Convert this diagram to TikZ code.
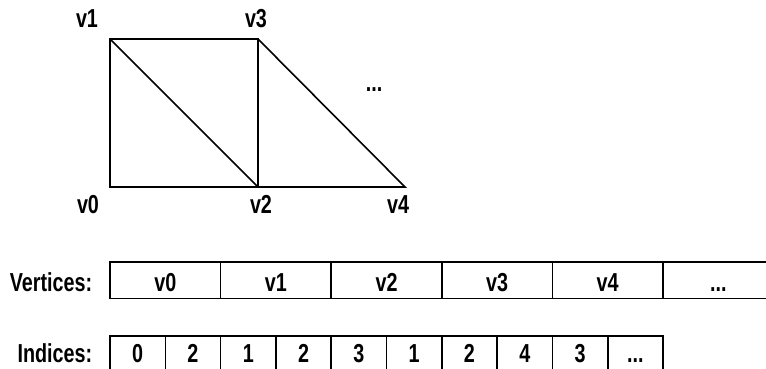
\documentclass[tikz,border=0pt]{standalone}
\usepackage{fontspec}
\setmainfont[FakeStretch=0.76]{Liberation Sans Bold}
\newcommand\myellip{...}
\begin{document}
\begin{tikzpicture}[x=1pt,y=-1pt,line width=1.6pt,
  txt/.style={font=\fontsize{26}{26}\selectfont, inner sep=0pt},
  cellv/.style={draw, txt, minimum width=110.6pt, minimum height=36.6pt, text height=22pt, text depth=0pt},
  celli/.style={draw, txt, minimum width=55.3pt, minimum height=37pt, text height=15.6pt, text depth=0pt},
  edge/.style={line width=1.6pt}]
\clip (0,0) rectangle (766,369);
% mesh
\coordinate (p1) at (110,39);
\coordinate (p3) at (258,39);
\coordinate (p0) at (110,187);
\coordinate (p2) at (258,187);
\coordinate (p4) at (405,187);
\draw[edge] (p0) -- (p1) -- (p3) -- (p2) -- cycle;
\draw[edge] (p1) -- (p2);
\draw[edge] (p3) -- (p4) -- (p2);
\node[txt, anchor=base] (l1) at (87,28) {v1};
\node[txt, anchor=base] (l3) at (256,28) {v3};
\node[txt, anchor=base] (l0) at (88,213) {v0};
\node[txt, anchor=base] (l2) at (261,213) {v2};
\node[txt, anchor=base] (l4) at (398,213) {v4};
\node[txt, anchor=base] (dots) at (374,92) {\myellip};
% vertices row
\node[txt, anchor=base east] (vlab) at (93,291) {Vertices:};
\foreach \t [count=\i from 0] in {v0,v1,v2,v3,v4,\myellip}{
  \node[cellv] (v\i) at (110+55.3+\i*110.6,280) {\t};
}
% indices row
\node[txt, anchor=base east] (ilab) at (93,362) {Indices:};
\foreach \t [count=\i from 0] in {0,2,1,2,3,1,2,4,3,\myellip}{
  \node[celli] (c\i) at (110+27.65+\i*55.3,354.2) {\t};
}
\end{tikzpicture}
\end{document}
